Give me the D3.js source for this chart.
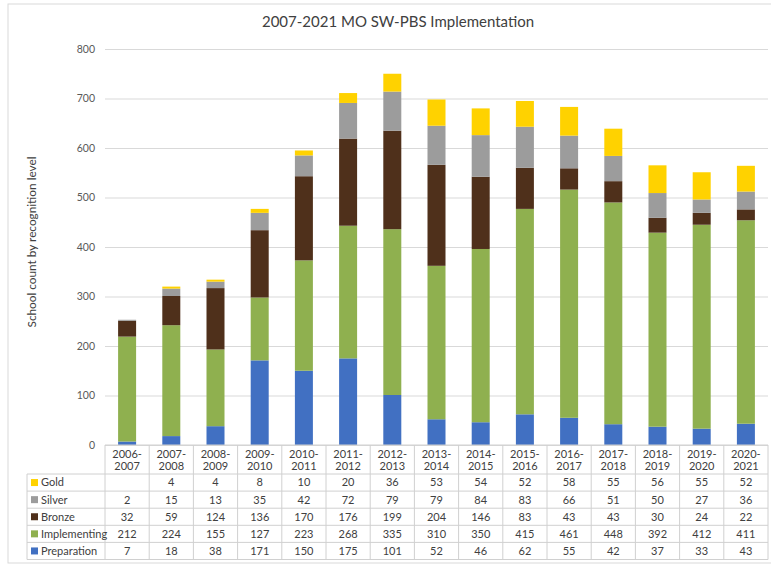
<!DOCTYPE html>
<html>
<head>
<meta charset="utf-8">
<script src="https://cdn.jsdelivr.net/npm/d3@7"></script>
<style>
  body { margin: 0; background: #fff; }
  svg { display: block; font-family: Lato, 'Open Sans', sans-serif; }
</style>
</head>
<body>
<div id="chart"></div>
<script>
const years = ['2006-2007', '2007-2008', '2008-2009', '2009-2010', '2010-2011', '2011-2012', '2012-2013',
  '2013-2014', '2014-2015', '2015-2016', '2016-2017', '2017-2018', '2018-2019', '2019-2020', '2020-2021']
const gold = [null, 4, 4, 8, 10, 20, 36, 53, 54, 52, 58, 55, 56, 55, 52]
const silver = [2, 15, 13, 35, 42, 72, 79, 79, 84, 83, 66, 51, 50, 27, 36]
const bronze = [32, 59, 124, 136, 170, 176, 199, 204, 146, 83, 43, 43, 30, 24, 22]
const implementing = [212, 224, 155, 127, 223, 268, 335, 310, 350, 415, 461, 448, 392, 412, 411]
const preparation = [7, 18, 38, 171, 150, 175, 101, 52, 46, 62, 55, 42, 37, 33, 43]
const yTicks = [0, 100, 200, 300, 400, 500, 600, 700, 800]

// bottom to top
const series = [
  { key: 'Preparation', values: preparation, color: '#4170c2' },
  { key: 'Implementing', values: implementing, color: '#8fb04f' },
  { key: 'Bronze', values: bronze, color: '#4f301b' },
  { key: 'Silver', values: silver, color: '#9c9c9c' },
  { key: 'Gold', values: gold, color: '#ffd200' },
]

const W = 771, H = 565
const plot = { LEFT: 105, RIGHT: 768, TOP: 49, BOTTOM: 445 }
const rowH = 17.1, headH = 29

const svg = d3.select('#chart').append('svg').attr('width', W).attr('height', H)

// outer frame
svg.append('rect')
  .attr('x', 8).attr('y', 4).attr('width', W).attr('height', H - 6)
  .attr('fill', 'none').attr('stroke', '#d9d9d9')

svg.append('text')
  .attr('x', 398).attr('y', 27)
  .attr('text-anchor', 'middle')
  .attr('font-size', 15)
  .attr('fill', '#404040')
  .text('2007-2021 MO SW-PBS Implementation')

const x = d3.scaleBand().domain(years).range([plot.LEFT, plot.RIGHT])
const y = d3.scaleLinear().domain([0, 800]).range([plot.BOTTOM, plot.TOP])

// grid + y labels
svg.append('g')
  .attr('transform', `translate(${plot.LEFT},0)`)
  .call(d3.axisLeft(y).tickValues(yTicks).tickSize(-(plot.RIGHT - plot.LEFT)).tickPadding(10))
  .call(g => g.select('.domain').remove())
  .call(g => g.selectAll('line').attr('stroke', '#d9d9d9'))
  .call(g => g.selectAll('text').attr('fill', '#595959').attr('font-size', 10.5).attr('font-family', 'Lato, sans-serif'))

svg.append('text')
  .attr('transform', `translate(36, ${(plot.TOP + plot.BOTTOM) / 2 - 5}) rotate(-90)`)
  .attr('text-anchor', 'middle')
  .attr('font-size', 11.8)
  .attr('fill', '#404040')
  .text('School count by recognition level')

// stacked bars
const rows = years.map((yr, i) => {
  const r = { year: yr }
  series.forEach(s => { r[s.key] = s.values[i] || 0 })
  return r
})
const stack = d3.stack().keys(series.map(s => s.key))(rows)
const barW = 18

svg.append('g')
  .selectAll('g')
  .data(stack)
  .join('g')
  .attr('fill', (d, i) => series[i].color)
  .selectAll('rect')
  .data(d => d)
  .join('rect')
  .attr('x', d => x(d.data.year) + x.bandwidth() / 2 - barW / 2)
  .attr('width', barW)
  .attr('y', d => y(d[1]))
  .attr('height', d => y(d[0]) - y(d[1]))

// data table
const table = svg.append('g').attr('font-size', 11).attr('fill', '#404040')
const lineColor = '#d0d0d0'
const tableTop = plot.BOTTOM
const bodyTop = tableTop + headH
const tableRows = series.slice().reverse()
const legendLeft = 27
const tableBottom = bodyTop + rowH * tableRows.length

// horizontal lines
table.append('line')
  .attr('x1', plot.LEFT).attr('x2', plot.RIGHT).attr('y1', tableTop).attr('y2', tableTop)
  .attr('stroke', lineColor)
d3.range(tableRows.length + 1).forEach(i => {
  table.append('line')
    .attr('x1', legendLeft).attr('x2', plot.RIGHT)
    .attr('y1', bodyTop + i * rowH).attr('y2', bodyTop + i * rowH)
    .attr('stroke', lineColor)
})
// vertical lines
table.append('line')
  .attr('x1', legendLeft).attr('x2', legendLeft).attr('y1', bodyTop).attr('y2', tableBottom)
  .attr('stroke', lineColor)
years.concat(['end']).forEach((yr, i) => {
  const xx = plot.LEFT + i * x.bandwidth()
  table.append('line')
    .attr('x1', xx).attr('x2', xx).attr('y1', tableTop).attr('y2', tableBottom)
    .attr('stroke', lineColor)
})

// header
years.forEach(yr => {
  const [a, b] = yr.split('-')
  const t = table.append('text')
    .attr('x', x(yr) + x.bandwidth() / 2)
    .attr('text-anchor', 'middle')
  t.append('tspan').attr('x', x(yr) + x.bandwidth() / 2).attr('y', tableTop + 12.5).text(a + '-')
  t.append('tspan').attr('x', x(yr) + x.bandwidth() / 2).attr('y', tableTop + 25).text(b)
})

// body
tableRows.forEach((s, r) => {
  const cy = bodyTop + r * rowH + rowH / 2
  table.append('rect')
    .attr('x', legendLeft + 4).attr('y', cy - 3.5).attr('width', 7).attr('height', 7)
    .attr('fill', s.color)
  table.append('text')
    .attr('x', legendLeft + 14).attr('y', cy + 3.9)
    .text(s.key)
  s.values.forEach((v, i) => {
    if (v == null) return
    table.append('text')
      .attr('x', x(years[i]) + x.bandwidth() / 2).attr('y', cy + 3.9)
      .attr('text-anchor', 'middle')
      .text(v)
  })
})
</script>
</body>
</html>
